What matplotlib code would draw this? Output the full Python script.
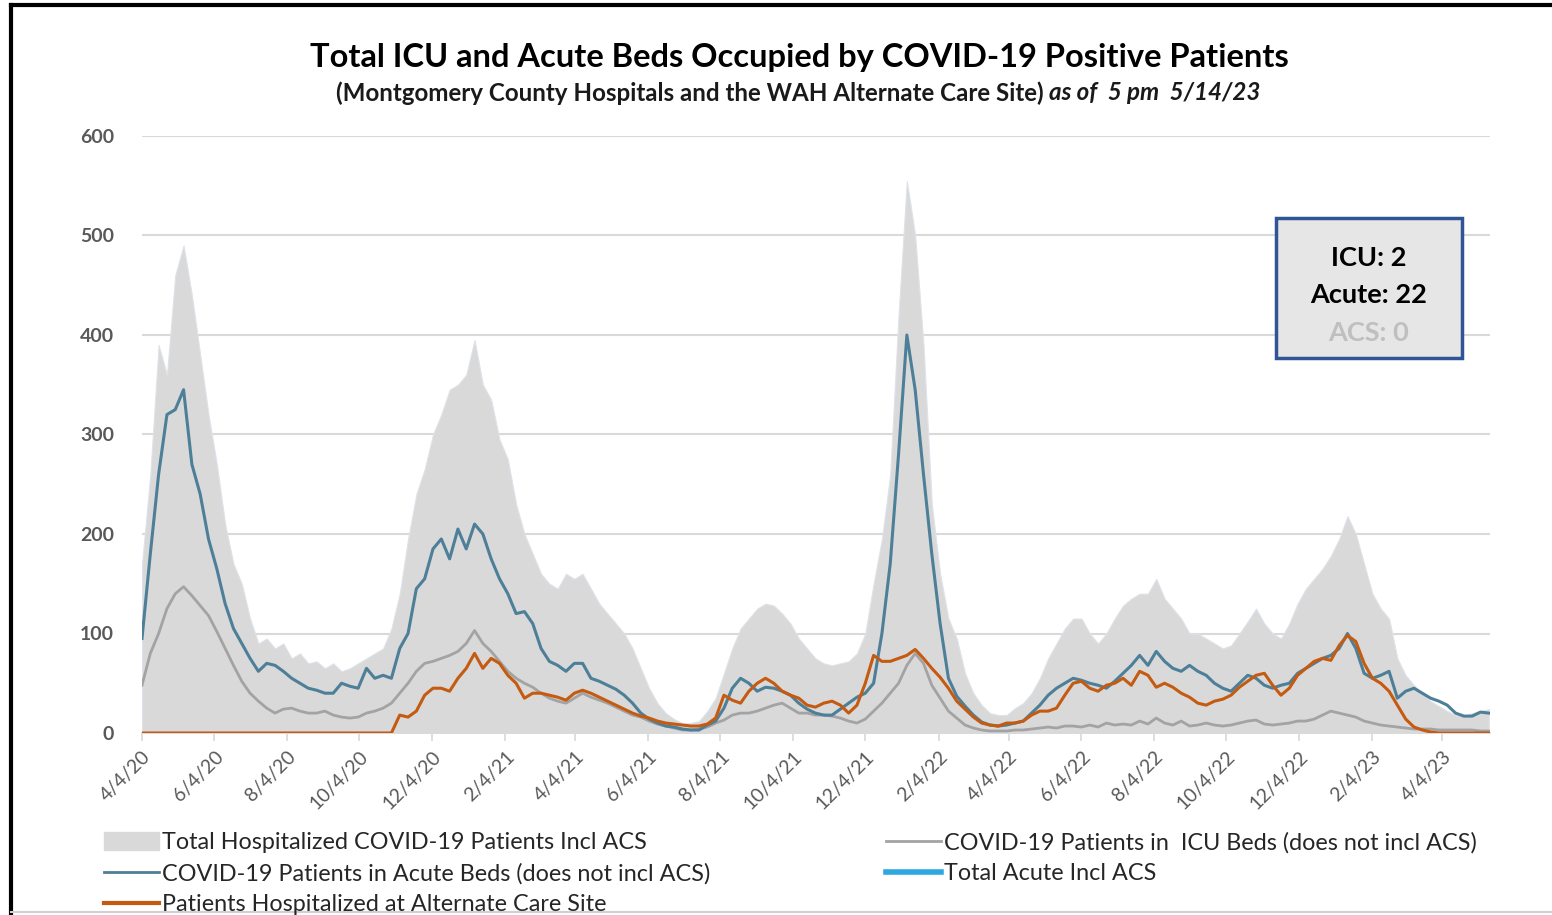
import matplotlib
matplotlib.use('Agg')
import matplotlib.pyplot as plt
import matplotlib.patches as mpatches
from matplotlib.lines import Line2D
import pandas as pd

plt.rcParams['font.family'] = ['Lato', 'DejaVu Sans']

# weekly readings, 4/4/20 .. 5/13/23
dates = pd.date_range('2020-04-04', periods=163, freq='7D')

total_incl_acs = [
    170, 260, 390, 360, 460, 490, 440, 380, 320, 270, 210, 170, 150, 115, 90, 95,
    85, 90, 75, 80, 70, 72, 65, 70, 62, 65, 70, 75, 80, 85, 105, 140,
    195, 240, 265, 300, 320, 345, 350, 360, 395, 350, 335, 295, 275, 230, 200, 180,
    160, 150, 145, 160, 155, 160, 145, 130, 120, 110, 100, 85, 65, 45, 30, 20,
    14, 10, 10, 12, 22, 35, 60, 85, 105, 115, 125, 130, 128, 120, 110, 95,
    85, 75, 70, 68, 70, 72, 80, 100, 150, 195, 260, 420, 555, 500, 390, 230,
    160, 115, 95, 60, 40, 28, 20, 18, 18, 25, 30, 40, 55, 75, 90, 105,
    115, 115, 100, 90, 100, 115, 128, 135, 140, 140, 155, 135, 125, 115, 100, 100,
    95, 90, 85, 88, 100, 112, 125, 110, 100, 95, 110, 130, 145, 155, 165, 178,
    195, 218, 200, 170, 140, 125, 115, 75, 58, 48, 40, 32, 27, 22, 18, 17,
    20, 22, 24,
]

acute_beds = [
    95, 180, 260, 320, 325, 345, 270, 240, 195, 165, 130, 105, 90, 75, 62, 70,
    68, 62, 55, 50, 45, 43, 40, 40, 50, 47, 45, 65, 55, 58, 55, 85,
    100, 145, 155, 185, 195, 175, 205, 185, 210, 200, 175, 155, 140, 120, 122, 110,
    85, 72, 68, 62, 70, 70, 55, 52, 48, 44, 38, 30, 20, 14, 10, 7,
    6, 4, 3, 3, 8, 12, 25, 45, 55, 50, 42, 46, 45, 42, 38, 30,
    24, 20, 18, 18, 24, 30, 36, 40, 50, 100, 170, 280, 400, 345, 260, 180,
    110, 55, 37, 27, 18, 11, 8, 7, 8, 10, 12, 20, 28, 38, 45, 50,
    55, 53, 50, 48, 45, 52, 60, 68, 78, 68, 82, 72, 65, 62, 68, 62,
    58, 50, 45, 42, 50, 58, 55, 48, 45, 48, 50, 60, 65, 70, 75, 78,
    85, 100, 85, 60, 55, 58, 62, 35, 42, 45, 40, 35, 32, 28, 20, 17,
    17, 21, 20,
]

icu_beds = [
    48, 80, 100, 125, 140, 147, 138, 128, 118, 102, 85, 68, 52, 40, 32, 25,
    20, 24, 25, 22, 20, 20, 22, 18, 16, 15, 16, 20, 22, 25, 30, 40,
    50, 62, 70, 72, 75, 78, 82, 90, 103, 90, 82, 72, 62, 55, 50, 46,
    40, 35, 32, 30, 35, 40, 36, 33, 30, 26, 22, 18, 16, 12, 9, 7,
    5, 3, 3, 4, 6, 10, 13, 18, 20, 20, 22, 25, 28, 30, 25, 20,
    20, 18, 18, 17, 15, 12, 10, 14, 22, 30, 40, 50, 68, 80, 70, 48,
    35, 22, 15, 8, 5, 3, 2, 2, 2, 3, 3, 4, 5, 6, 5, 7,
    7, 6, 8, 6, 10, 8, 9, 8, 12, 9, 15, 10, 8, 12, 7, 8,
    10, 8, 7, 8, 10, 12, 13, 9, 8, 9, 10, 12, 12, 14, 18, 22,
    20, 18, 16, 12, 10, 8, 7, 6, 5, 4, 4, 4, 3, 3, 3, 3,
    3, 2, 2,
]

alt_care_site = [
    0, 0, 0, 0, 0, 0, 0, 0, 0, 0, 0, 0, 0, 0, 0, 0,
    0, 0, 0, 0, 0, 0, 0, 0, 0, 0, 0, 0, 0, 0, 0, 18,
    16, 22, 38, 45, 45, 42, 55, 65, 80, 65, 75, 70, 58, 50, 35, 40,
    40, 38, 36, 33, 40, 43, 40, 36, 32, 28, 24, 20, 17, 15, 12, 10,
    9, 8, 7, 7, 9, 15, 38, 33, 30, 42, 50, 55, 50, 42, 38, 35,
    28, 26, 30, 32, 28, 20, 28, 50, 78, 72, 72, 75, 78, 84, 75, 65,
    56, 45, 32, 24, 16, 10, 8, 7, 10, 10, 12, 18, 22, 22, 25, 38,
    50, 52, 45, 42, 48, 50, 55, 48, 62, 58, 46, 50, 46, 40, 36, 30,
    28, 32, 34, 38, 46, 52, 58, 60, 48, 38, 45, 58, 65, 72, 75, 73,
    88, 98, 92, 70, 55, 50, 42, 28, 14, 6, 3, 1, 0, 0, 0, 0,
    0, 0, 0,
]

tick_dates = pd.to_datetime([
    '2020-04-04', '2020-06-04', '2020-08-04', '2020-10-04', '2020-12-04',
    '2021-02-04', '2021-04-04', '2021-06-04', '2021-08-04', '2021-10-04',
    '2021-12-04', '2022-02-04', '2022-04-04', '2022-06-04', '2022-08-04',
    '2022-10-04', '2022-12-04', '2023-02-04', '2023-04-04',
])
tick_labels = [
    '4/4/20', '6/4/20', '8/4/20', '10/4/20', '12/4/20', '2/4/21', '4/4/21',
    '6/4/21', '8/4/21', '10/4/21', '12/4/21', '2/4/22', '4/4/22', '6/4/22',
    '8/4/22', '10/4/22', '12/4/22', '2/4/23', '4/4/23',
]

latest = {'ICU': 2, 'Acute': 22, 'ACS': 0}

C_FILL = '#D9D9D9'
C_ACUTE = '#4D7F98'
C_ICU = '#A3A3A3'
C_ACS = '#C55A11'
C_TOTAL_ACUTE = '#2EA8E0'
C_TXT = '#595959'

W, H = 1552, 915
fig = plt.figure(figsize=(W / 100, H / 100), dpi=100)
fig.patch.set_facecolor('white')
ax = fig.add_axes([142 / W, 1 - 733 / H, (1490 - 142) / W, (733 - 136) / H])

ax.fill_between(dates, total_incl_acs, 0, color=C_FILL, edgecolor='#DDE3EA',
                linewidth=0.8, zorder=2)
ax.plot(dates, icu_beds, color=C_ICU, linewidth=2.0, zorder=3)
ax.plot(dates, acute_beds, color=C_ACUTE, linewidth=2.2, zorder=4)
ax.plot(dates, alt_care_site, color=C_ACS, linewidth=2.2, zorder=5)

ax.set_xlim(pd.Timestamp('2020-04-04'), pd.Timestamp('2023-05-14'))
ax.set_ylim(0, 600)
ax.set_yticks(range(0, 601, 100))
ax.yaxis.grid(True, color='#D9D9D9', linewidth=1.5, zorder=0)
ax.set_axisbelow(True)
for s in ['top', 'right', 'left']:
    ax.spines[s].set_visible(False)
ax.spines['bottom'].set_color('#D9D9D9')
ax.spines['bottom'].set_linewidth(1.2)

ax.set_xticks(tick_dates)
ax.set_xticklabels(tick_labels, rotation=45, ha='right', rotation_mode='anchor',
                   fontsize=14, color=C_TXT)
ax.tick_params(axis='x', length=6, color='#D9D9D9', width=1.2, pad=5)
ax.tick_params(axis='y', length=0, pad=20, labelsize=14, labelcolor=C_TXT)
for lbl in ax.get_yticklabels():
    lbl.set_fontweight('bold')

# title
fig.text(799 / W, 1 - 57 / H, 'Total ICU and Acute Beds Occupied by COVID-19 Positive Patients',
         ha='center', va='center', fontsize=23.5, fontweight='bold', color='black')
sub_y = 1 - 93 / H
sub1 = fig.text(0, sub_y, '(Montgomery County Hospitals and the WAH Alternate Care Site) ',
                ha='left', va='center', fontsize=17.4, fontweight='bold', color='#1A1A1A')
sub2 = fig.text(0, sub_y, 'as of  5 pm  5/14/23', ha='left', va='center',
                fontsize=17.4, fontweight='bold', fontstyle='italic', color='#1A1A1A')
fig.canvas.draw()
w1 = sub1.get_window_extent().width
w2 = sub2.get_window_extent().width
x0 = 798 - (w1 + w2) / 2
sub1.set_x(x0 / W)
sub2.set_x((x0 + w1) / W)

# info box
box = mpatches.Rectangle((1276 / W, 1 - 358 / H), 186 / W, 140 / H,
                         transform=fig.transFigure, facecolor='#E6E6E6',
                         edgecolor='#2F5597', linewidth=2.5, zorder=10)
fig.patches.append(box)
cx = 1369 / W
fig.text(cx, 1 - 258 / H, f"ICU: {latest['ICU']}", ha='center', va='center',
         fontsize=19.5, fontweight='bold', color='black', zorder=11)
fig.text(cx, 1 - 295 / H, f"Acute: {latest['Acute']}", ha='center', va='center',
         fontsize=19.5, fontweight='bold', color='black', zorder=11)
fig.text(cx, 1 - 333 / H, f"ACS: {latest['ACS']}", ha='center', va='center',
         fontsize=19.5, fontweight='bold', color='#BFBFBF', zorder=11)

# legends
h_total = mpatches.Patch(facecolor=C_FILL, edgecolor=C_FILL)
h_acute = Line2D([], [], color=C_ACUTE, linewidth=2)
h_acs = Line2D([], [], color=C_ACS, linewidth=3)
h_icu = Line2D([], [], color=C_ICU, linewidth=2)
h_tot_acute = Line2D([], [], color=C_TOTAL_ACUTE, linewidth=4)

leg_kw = dict(frameon=False, fontsize=16.8, handlelength=2.35, handleheight=0.8,
              handletextpad=0.12, labelspacing=0.42, borderaxespad=0, borderpad=0,
              labelcolor='#262626')
fig.legend([h_total, h_acute, h_acs],
           ['Total Hospitalized COVID-19 Patients Incl ACS',
            'COVID-19 Patients in Acute Beds (does not incl ACS)',
            'Patients Hospitalized at Alternate Care Site'],
           loc='upper left', bbox_to_anchor=(104 / W, 1 - 832 / H), **leg_kw)
fig.legend([h_icu, h_tot_acute],
           ['COVID-19 Patients in  ICU Beds (does not incl ACS)',
            'Total Acute Incl ACS'],
           loc='upper left', bbox_to_anchor=(886 / W, 1 - 832 / H), **leg_kw)

# outer frame
fig.add_artist(Line2D([11 / W, 11 / W], [0, 1 - 5 / H], transform=fig.transFigure,
                      color='black', linewidth=3))
fig.add_artist(Line2D([11 / W, 1], [1 - 5 / H, 1 - 5 / H], transform=fig.transFigure,
                      color='black', linewidth=3))
fig.add_artist(Line2D([11 / W, 1], [1 - 912 / H, 1 - 912 / H], transform=fig.transFigure,
                      color='#D0D0D0', linewidth=1.5))

fig.savefig('out.png', dpi=100)
